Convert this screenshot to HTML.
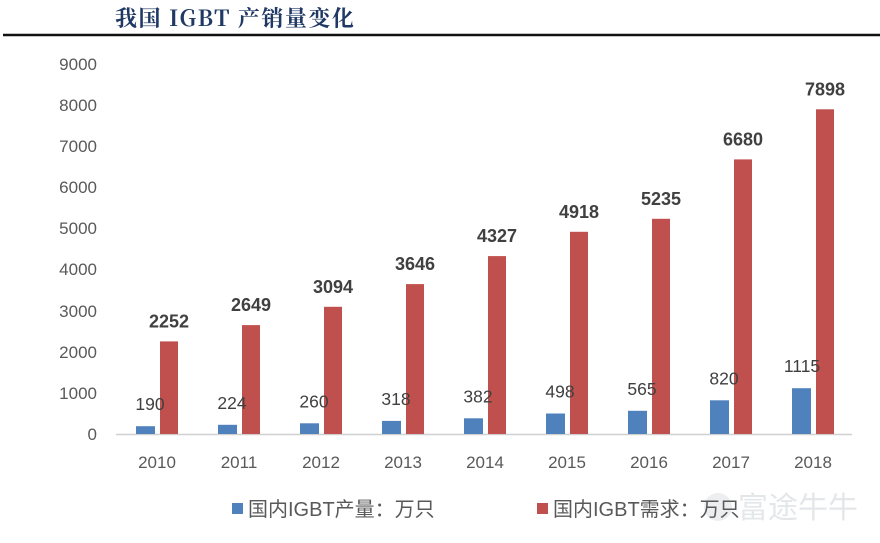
<!DOCTYPE html>
<html><head><meta charset="utf-8"><style>
html,body{margin:0;padding:0;background:#fff;}
svg{display:block;}
</style></head><body>
<svg width="880" height="543" viewBox="0 0 880 543" xmlns="http://www.w3.org/2000/svg">
<rect width="880" height="543" fill="#fff"/>
<text x="115" y="26" font-family="'Noto Serif CJK SC','Liberation Serif',serif" font-weight="bold" font-size="22" letter-spacing="1.5" fill="#1f3864">我国 IGBT 产销量变化</text>
<line x1="3" y1="35" x2="880" y2="35" stroke="#111" stroke-width="2.5"/>
<g font-family="'Liberation Sans','Noto Sans CJK SC',sans-serif" font-size="17" fill="#595959" text-anchor="end">
<text x="97" y="70">9000</text>
<text x="97" y="111">8000</text>
<text x="97" y="152">7000</text>
<text x="97" y="193">6000</text>
<text x="97" y="234">5000</text>
<text x="97" y="275">4000</text>
<text x="97" y="317">3000</text>
<text x="97" y="358">2000</text>
<text x="97" y="399">1000</text>
<text x="97" y="440">0</text>
</g>
<line x1="116" y1="434.5" x2="852" y2="434.5" stroke="#d0d0d0" stroke-width="1.5"/>
<g fill="#4f81bd">
<rect x="136" y="426.2" width="19" height="7.8"/>
<rect x="218" y="424.8" width="19" height="9.2"/>
<rect x="300" y="423.3" width="19" height="10.7"/>
<rect x="382" y="420.9" width="19" height="13.1"/>
<rect x="464" y="418.3" width="19" height="15.7"/>
<rect x="546" y="413.5" width="19" height="20.5"/>
<rect x="628" y="410.8" width="19" height="23.2"/>
<rect x="710" y="400.3" width="19" height="33.7"/>
<rect x="792" y="388.2" width="19" height="45.8"/>
</g>
<g fill="#c0504d">
<rect x="160" y="341.4" width="18" height="92.6"/>
<rect x="242" y="325.1" width="18" height="108.9"/>
<rect x="324" y="306.8" width="18" height="127.2"/>
<rect x="406" y="284.1" width="18" height="149.9"/>
<rect x="488" y="256.1" width="18" height="177.9"/>
<rect x="570" y="231.8" width="18" height="202.2"/>
<rect x="652" y="218.8" width="18" height="215.2"/>
<rect x="734" y="159.4" width="18" height="274.6"/>
<rect x="816" y="109.3" width="18" height="324.7"/>
</g>
<g font-family="'Liberation Sans',sans-serif" font-size="17.5" fill="#404040" text-anchor="middle">
<text x="150" y="410.2">190</text>
<text x="232" y="408.8">224</text>
<text x="314" y="407.3">260</text>
<text x="396" y="404.9">318</text>
<text x="478" y="402.3">382</text>
<text x="560" y="397.5">498</text>
<text x="642" y="394.8">565</text>
<text x="724" y="384.3">820</text>
<text x="802" y="372.2">1115</text>
</g>
<g font-family="'Liberation Sans',sans-serif" font-size="18" font-weight="bold" fill="#404040" text-anchor="middle">
<text x="169" y="327.4">2252</text>
<text x="251" y="311.1">2649</text>
<text x="333" y="292.8">3094</text>
<text x="415" y="270.1">3646</text>
<text x="497" y="242.1">4327</text>
<text x="579" y="217.8">4918</text>
<text x="661" y="204.8">5235</text>
<text x="743" y="145.4">6680</text>
<text x="825" y="95.3">7898</text>
</g>
<g font-family="'Liberation Sans','Noto Sans CJK SC',sans-serif" font-size="17" fill="#595959" text-anchor="middle">
<text x="157" y="468">2010</text>
<text x="239" y="468">2011</text>
<text x="321" y="468">2012</text>
<text x="403" y="468">2013</text>
<text x="485" y="468">2014</text>
<text x="567" y="468">2015</text>
<text x="649" y="468">2016</text>
<text x="731" y="468">2017</text>
<text x="813" y="468">2018</text>
</g>
<circle cx="718" cy="507" r="14" fill="#eceef0"/>
<text x="738" y="518" font-family="'Noto Sans CJK SC',sans-serif" font-size="30" fill="#e4e7ea">富途牛牛</text>
<rect x="232" y="503" width="11" height="11" fill="#4f81bd"/>
<text x="248" y="516" font-family="'Liberation Sans','Noto Sans CJK SC',sans-serif" font-size="20" fill="#595959">国内IGBT产量：万只</text>
<rect x="537" y="503" width="11" height="11" fill="#c0504d"/>
<text x="553" y="516" font-family="'Liberation Sans','Noto Sans CJK SC',sans-serif" font-size="20" fill="#595959">国内IGBT需求：万只</text>
</svg>
</body></html>
